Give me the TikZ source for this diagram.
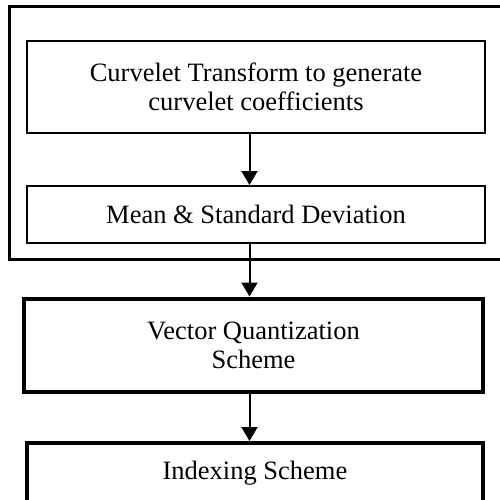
\documentclass[tikz,border=0pt]{standalone}
\usepackage{fontspec}
\setmainfont{Liberation Serif}
\usetikzlibrary{arrows.meta}
\begin{document}
\begin{tikzpicture}[x=1pt,y=-1pt,
  thinbox/.style={draw, line width=2pt, minimum width=#1, inner sep=0pt, align=center,
    font=\fontsize{26.5}{29}\selectfont},
  thickbox/.style={draw, line width=4pt, minimum width=#1, inner sep=0pt, align=center,
    font=\fontsize{26.5}{29}\selectfont},
  arr/.style={line width=2pt, -{Triangle[width=16pt,length=14pt]}}]
\useasboundingbox (0,0) rectangle (500,499);
\fill[white] (0,0) rectangle (500,499);
\node[draw, line width=3pt, minimum width=493.5pt, minimum height=252.5pt, inner sep=0pt] (frame) at (256.25,132.75) {};
\node[thinbox=458pt, minimum height=92pt] (b1) at (256,87) {Curvelet Transform to generate\\curvelet coefficients};
\node[thinbox=458pt, minimum height=57pt] (b2) at (256,214.5) {Mean \& Standard Deviation};
\node[thickbox=459pt, minimum height=93pt] (b3) at (253.5,345) {Vector Quantization\\Scheme};
\node[thickbox=456pt, minimum height=61pt] (b4) at (255,473.5) {Indexing Scheme};
\coordinate (ax) at (249.5,0);
\draw[arr] (b1.south -| ax) -- (b2.north -| ax);
\draw[arr] (b2.south -| ax) -- (b3.north -| ax);
\draw[arr] (b3.south -| ax) -- (b4.north -| ax);
\end{tikzpicture}
\end{document}
